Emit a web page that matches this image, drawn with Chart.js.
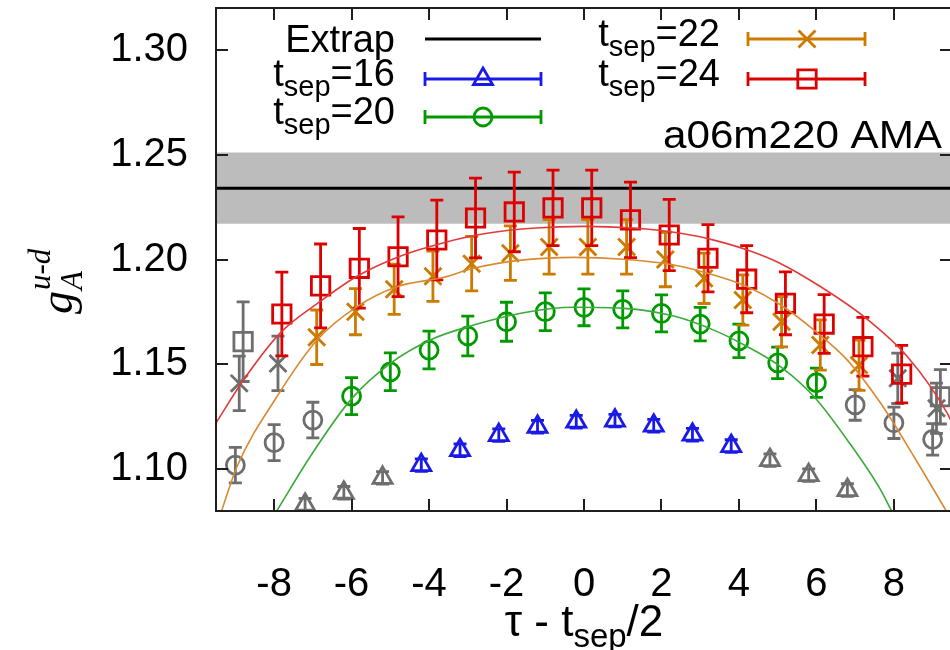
<!DOCTYPE html>
<html>
<head>
<meta charset="utf-8">
<script src="https://cdn.jsdelivr.net/npm/chart.js@4.4.1/dist/chart.umd.min.js"></script>
<style>
html,body{margin:0;padding:0;background:#fff;width:950px;height:650px;overflow:hidden;}
canvas{display:block;}
</style>
</head>
<body>
<canvas id="c" width="956" height="650"></canvas>
<script>
// ---------------- data ----------------
const xTickValues = [-8, -6, -4, -2, 0, 2, 4, 6, 8];
const yTickValues = [1.10, 1.15, 1.20, 1.25, 1.30];

const extrapValue = 1.234;
const extrapError = 0.017;

// t_sep = 16 (fitted points, then excluded points)
const tau16  = [-4, -3, -2, -1, 0, 1, 2, 3, 4];
const g16    = [1.1019, 1.1090, 1.1162, 1.1202, 1.1226, 1.1231, 1.1207, 1.1164, 1.1110];
const e16    = [0.003, 0.003, 0.003, 0.003, 0.003, 0.003, 0.003, 0.003, 0.003];
const tau16x = [-7, -6, -5, 5, 6, 7];
const g16x   = [1.0830, 1.0887, 1.0958, 1.1043, 1.0971, 1.0900];
const e16x   = [0.003, 0.003, 0.003, 0.003, 0.003, 0.003];

// t_sep = 20
const tau20  = [-6, -5, -4, -3, -2, -1, 0, 1, 2, 3, 4, 5, 6];
const g20    = [1.1348, 1.1464, 1.1568, 1.1635, 1.1703, 1.1751, 1.1772, 1.1762, 1.1743, 1.1692, 1.1612, 1.1507, 1.1412];
const e20    = [0.0088, 0.0090, 0.0090, 0.0095, 0.0093, 0.0090, 0.0088, 0.0088, 0.0088, 0.0080, 0.0080, 0.0075, 0.0070];
const tau20x = [-9, -8, -7, 7, 8, 9];
const g20x   = [1.1019, 1.1126, 1.1234, 1.1306, 1.1221, 1.1142];
const e20x   = [0.0085, 0.0086, 0.0085, 0.0073, 0.0075, 0.0075];

// t_sep = 22
const tau22  = [-7, -6, -5, -4, -3, -2, -1, 0, 1, 2, 3, 4, 5, 6, 7];
const g22    = [1.1629, 1.1751, 1.1858, 1.1920, 1.1980, 1.2030, 1.2060, 1.2060, 1.2060, 1.2000, 1.1910, 1.1807, 1.1703, 1.1592, 1.1496];
const e22    = [0.013, 0.011, 0.012, 0.012, 0.013, 0.013, 0.013, 0.013, 0.013, 0.013, 0.012, 0.012, 0.012, 0.012, 0.012];
const tau22x = [-9, -8, 8, 9];
const g22x   = [1.1409, 1.1504, 1.1433, 1.1290];
const e22x   = [0.013, 0.013, 0.012, 0.012];

// t_sep = 24
const tau24  = [-8, -7, -6, -5, -4, -3, -2, -1, 0, 1, 2, 3, 4, 5, 6, 7, 8];
const g24    = [1.1740, 1.1874, 1.1958, 1.2013, 1.2093, 1.2198, 1.2227, 1.2246, 1.2246, 1.2189, 1.2117, 1.2006, 1.1906, 1.1791, 1.1692, 1.1584, 1.1453];
const e24    = [0.020, 0.020, 0.019, 0.019, 0.019, 0.019, 0.019, 0.018, 0.018, 0.018, 0.017, 0.016, 0.016, 0.015, 0.014, 0.014, 0.0137];
const tau24x = [-9, 9];
const g24x   = [1.1608, 1.1345];
const e24x   = [0.019, 0.013];

// fit curves
const fit20Tau = [-7.92, -7.07, -6.03, -5.0, -3.97, -2.85, -1.56, -0.26, 1.03, 2.32, 3.35, 4.22, 5.08, 5.94, 6.8, 7.66, 7.94];
const fit20G   = [1.0804, 1.1059, 1.1329, 1.1504, 1.1616, 1.1687, 1.1746, 1.1772, 1.1767, 1.1730, 1.1663, 1.1584, 1.1488, 1.1345, 1.1138, 1.0900, 1.0800];
const fit22Tau = [-9.35, -8.96, -7.93, -6.89, -5.86, -4.83, -3.62, -2.85, -1.56, -0.26, 1.03, 2.32, 3.35, 4.22, 5.08, 5.94, 6.8, 7.66, 8.52, 9.34];
const fit22G   = [1.0804, 1.1011, 1.1345, 1.1616, 1.1775, 1.1870, 1.1915, 1.1958, 1.1998, 1.2010, 1.2001, 1.1974, 1.1926, 1.1870, 1.1783, 1.1663, 1.1520, 1.1314, 1.1059, 1.0804];
const fit24Tau = [-9.5, -8.79, -7.84, -6.81, -5.86, -4.83, -3.62, -2.5, -1.25, 0, 1.25, 2.5, 3.4, 4.22, 5.08, 6.11, 7.23, 8.35, 9.38, 9.5];
const fit24G   = [1.1220, 1.1425, 1.1650, 1.1800, 1.1920, 1.2010, 1.2080, 1.2125, 1.2150, 1.2158, 1.2150, 1.2125, 1.2090, 1.2045, 1.1980, 1.1870, 1.1727, 1.1536, 1.1266, 1.1220];

// ---------------- styling ----------------
const C = {
  blue: '#1a1ae6', green: '#009a00', orange: '#cc7a00', red: '#dd0000', gray: '#6e6e6e',
  fitGreen: '#3aaa3a', fitOrange: '#d98a30', fitRed: '#e23a3a', band: '#bcbcbc'
};
const SHIFT = { s16: -0.2, s20: 0, s22: 0.1, s24: 0.2 };   // horizontal display offsets
const X_MIN = -9.5, X_MAX = 9.5, Y_MIN = 1.08, Y_MAX = 1.32;
const SANS = "'Liberation Sans', Arial, Helvetica, sans-serif";
const LW = 2.8;

function pts(taus, vals, off) { return taus.map((t, i) => ({ x: t + off, y: vals[i] })); }

function markerSet(label, taus, vals, errs, off, color, style, radius, order) {
  return {
    label, data: pts(taus, vals, off), errors: errs, order,
    showLine: false, pointStyle: style, pointRadius: radius, pointHoverRadius: radius,
    pointBorderWidth: LW, borderColor: color, pointBorderColor: color,
    backgroundColor: 'rgba(0,0,0,0)', pointBackgroundColor: 'rgba(0,0,0,0)'
  };
}
function curveSet(label, taus, vals, color, order) {
  return {
    type: 'line', label, data: pts(taus, vals, 0), order, showLine: true,
    borderColor: color, borderWidth: 1.6, pointRadius: 0, tension: 0.4,
    cubicInterpolationMode: 'monotone', fill: false
  };
}

const datasets = [
  { type: 'line', label: 'band', order: 20,
    data: [{ x: X_MIN, y: extrapValue + extrapError }, { x: X_MAX, y: extrapValue + extrapError }],
    borderWidth: 0, pointRadius: 0, backgroundColor: C.band, fill: { value: extrapValue - extrapError } },
  { type: 'line', label: 'Extrap', order: 19,
    data: [{ x: X_MIN, y: extrapValue }, { x: X_MAX, y: extrapValue }],
    borderColor: '#000', borderWidth: 3, pointRadius: 0, fill: false },
  markerSet('16x', tau16x, g16x, e16x, SHIFT.s16, C.gray, 'triangle', 11, 18),
  markerSet('20x', tau20x, g20x, e20x, SHIFT.s20, C.gray, 'circle', 9, 17),
  markerSet('22x', tau22x, g22x, e22x, SHIFT.s22, C.gray, 'crossRot', 12, 16),
  markerSet('24x', tau24x, g24x, e24x, SHIFT.s24, C.gray, 'rect', 13, 15),
  markerSet('16', tau16, g16, e16, SHIFT.s16, C.blue, 'triangle', 11, 14),
  markerSet('20', tau20, g20, e20, SHIFT.s20, C.green, 'circle', 9, 13),
  markerSet('22', tau22, g22, e22, SHIFT.s22, C.orange, 'crossRot', 12, 12),
  markerSet('24', tau24, g24, e24, SHIFT.s24, C.red, 'rect', 13, 11),
  curveSet('fit20', fit20Tau, fit20G, C.fitGreen, 5),
  curveSet('fit22', fit22Tau, fit22G, C.fitOrange, 4),
  curveSet('fit24', fit24Tau, fit24G, C.fitRed, 3)
];

// ---------------- plugins ----------------
const errorBars = {
  id: 'errorBars',
  beforeDatasetDraw(chart, args) {
    const ds = chart.data.datasets[args.index];
    if (!ds.errors) return;
    const { ctx, chartArea: a, scales } = chart;
    ctx.save();
    ctx.beginPath(); ctx.rect(a.left, a.top, a.right - a.left, a.bottom - a.top); ctx.clip();
    ctx.strokeStyle = ds.borderColor; ctx.lineWidth = LW; ctx.lineCap = 'butt';
    const cap = 6.5;
    ds.data.forEach((p, i) => {
      const e = ds.errors[i];
      const px = scales.x.getPixelForValue(p.x);
      const y1 = scales.y.getPixelForValue(p.y - e), y2 = scales.y.getPixelForValue(p.y + e);
      ctx.beginPath();
      ctx.moveTo(px, y1); ctx.lineTo(px, y2);
      ctx.moveTo(px - cap, y1); ctx.lineTo(px + cap, y1);
      ctx.moveTo(px - cap, y2); ctx.lineTo(px + cap, y2);
      ctx.stroke();
    });
    ctx.restore();
  }
};

function drawMarker(ctx, style, x, y, r) {
  Chart.helpers.drawPoint(ctx, { pointStyle: style, radius: r, rotation: 0, borderWidth: LW }, x, y);
}

function textWithSub(ctx, parts, xRef, baseline, big, small, align) {
  let w = 0;
  parts.forEach(p => { ctx.font = (p.sub ? small : big); w += ctx.measureText(p.t).width; });
  let x = align === 'center' ? xRef - w / 2 : xRef - w;
  ctx.textAlign = 'left'; ctx.textBaseline = 'alphabetic';
  parts.forEach(p => {
    ctx.font = (p.sub ? small : big);
    ctx.fillText(p.t, x, baseline + (p.sub ? p.subDy : 0));
    x += ctx.measureText(p.t).width;
  });
}

const decorations = {
  id: 'decorations',
  afterDraw(chart) {
    const { ctx, chartArea: a, scales } = chart;
    ctx.save();
    // frame + inward ticks on all four sides
    ctx.strokeStyle = '#1e1e1e'; ctx.lineWidth = 2;
    ctx.strokeRect(a.left, a.top, a.right - a.left, a.bottom - a.top);
    const tl = 12;
    ctx.beginPath();
    xTickValues.forEach(v => {
      const px = Math.round(scales.x.getPixelForValue(v));
      ctx.moveTo(px, a.bottom); ctx.lineTo(px, a.bottom - tl);
      ctx.moveTo(px, a.top); ctx.lineTo(px, a.top + tl);
    });
    yTickValues.forEach(v => {
      const py = Math.round(scales.y.getPixelForValue(v));
      ctx.moveTo(a.left, py); ctx.lineTo(a.left + tl, py);
      ctx.moveTo(a.right, py); ctx.lineTo(a.right - tl, py);
    });
    ctx.stroke();

    // tick labels, placed with the scales
    ctx.fillStyle = '#000';
    ctx.font = '40px ' + SANS;
    ctx.textBaseline = 'middle';
    ctx.textAlign = 'center';
    xTickValues.forEach(v => ctx.fillText(String(v), scales.x.getPixelForValue(v), a.bottom + 74));
    ctx.textAlign = 'right';
    yTickValues.forEach(v => ctx.fillText(v.toFixed(2), a.left - 28, scales.y.getPixelForValue(v)));

    // legend
    const big = '38px ' + SANS, small = '29px ' + SANS;
    const col1Text = 395, col1L = 425, col1R = 541, col1M = 483;
    const col2Text = 720, col2L = 748, col2R = 865, col2M = 807;
    const rows = [39, 79, 117];
    ctx.font = big; ctx.textAlign = 'right'; ctx.textBaseline = 'alphabetic';
    ctx.fillText('Extrap', col1Text, rows[0] + 13);
    ctx.strokeStyle = '#000'; ctx.lineWidth = 3;
    ctx.beginPath(); ctx.moveTo(col1L, rows[0]); ctx.lineTo(col1R, rows[0]); ctx.stroke();
    const entries = [
      { n: '16', xT: col1Text, L: col1L, R: col1R, M: col1M, y: rows[1], c: C.blue, s: 'triangle', r: 11 },
      { n: '20', xT: col1Text, L: col1L, R: col1R, M: col1M, y: rows[2], c: C.green, s: 'circle', r: 9 },
      { n: '22', xT: col2Text, L: col2L, R: col2R, M: col2M, y: rows[0], c: C.orange, s: 'crossRot', r: 12 },
      { n: '24', xT: col2Text, L: col2L, R: col2R, M: col2M, y: rows[1], c: C.red, s: 'rect', r: 13 }
    ];
    entries.forEach(e => {
      ctx.fillStyle = '#000';
      textWithSub(ctx, [{ t: 't' }, { t: 'sep', sub: true, subDy: 10 }, { t: '=' + e.n }], e.xT, e.y + 7, big, small);
      ctx.strokeStyle = e.c; ctx.lineWidth = LW;
      ctx.beginPath();
      ctx.moveTo(e.L, e.y); ctx.lineTo(e.R, e.y);
      ctx.moveTo(e.L, e.y - 7); ctx.lineTo(e.L, e.y + 7);
      ctx.moveTo(e.R, e.y - 7); ctx.lineTo(e.R, e.y + 7);
      ctx.stroke();
      ctx.strokeStyle = e.c; ctx.fillStyle = 'rgba(0,0,0,0)';
      drawMarker(ctx, e.s, e.M, e.y, e.r);
    });
    // ensemble label (slightly wide lettering as in the original)
    ctx.save();
    ctx.fillStyle = '#000';
    ctx.font = big; ctx.textAlign = 'right'; ctx.textBaseline = 'alphabetic';
    ctx.translate(942, 148);
    ctx.scale(1.11, 1);
    ctx.fillText('a06m220 AMA', 0, 0);
    ctx.restore();

    // x axis title
    ctx.fillStyle = '#000';
    textWithSub(ctx, [{ t: '\u03C4 - t' }, { t: 'sep', sub: true, subDy: 11 }, { t: '/2' }],
      584, 636, '44px ' + SANS, '33px ' + SANS, 'center');

    // y axis title g_A^{u-d}, rotated
    ctx.translate(72, 314);
    ctx.rotate(-Math.PI / 2);
    const serifBig = 'italic 46px "Liberation Serif", "DejaVu Serif", serif';
    const serifSmall = 'italic 31px "Liberation Serif", "DejaVu Serif", serif';
    ctx.textAlign = 'left'; ctx.textBaseline = 'alphabetic';
    ctx.font = serifBig; ctx.fillText('g', 0, 0);
    const gw = ctx.measureText('g').width + 1;
    ctx.font = serifSmall;
    ctx.fillText('A', gw, 10);
    ctx.fillText('u-d', gw, -22);
    ctx.restore();
  }
};

// ---------------- chart ----------------
new Chart(document.getElementById('c'), {
  type: 'scatter',
  data: { datasets },
  options: {
    responsive: false, animation: false, devicePixelRatio: 1, events: [],
    layout: { autoPadding: false, padding: { left: 0, right: 4, top: 8, bottom: 0 } },
    plugins: { legend: { display: false }, tooltip: { enabled: false } },
    scales: {
      x: {
        type: 'linear', min: X_MIN, max: X_MAX,
        afterBuildTicks: s => { s.ticks = xTickValues.map(v => ({ value: v })); },
        afterFit: s => { s.height = 139; },
        grid: { display: false, drawTicks: false }, border: { display: false },
        ticks: { display: false }
      },
      y: {
        type: 'linear', min: Y_MIN, max: Y_MAX,
        afterBuildTicks: s => { s.ticks = yTickValues.map(v => ({ value: v })); },
        afterFit: s => { s.width = 216; },
        grid: { display: false, drawTicks: false }, border: { display: false },
        ticks: { display: false }
      }
    }
  },
  plugins: [errorBars, decorations]
});
</script>
</body>
</html>
